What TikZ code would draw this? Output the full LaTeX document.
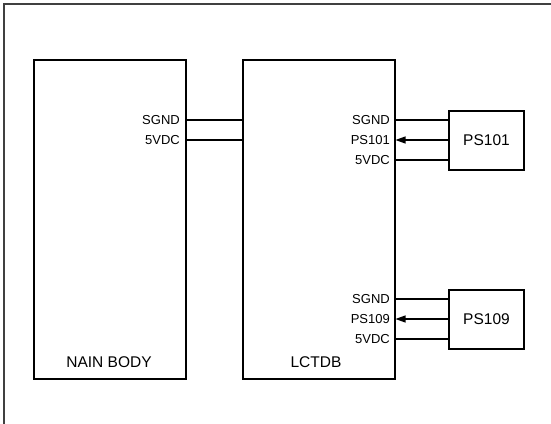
\documentclass[tikz,border=0pt]{standalone}
\usepackage{fontspec}
\setmainfont{Liberation Sans}
\usetikzlibrary{arrows.meta}
\begin{document}
\begin{tikzpicture}
      [x=1pt,y=-1pt,
       unit/.style={draw=black,line width=2pt,minimum width=152pt,minimum height=319pt,inner sep=0pt},
       sensor/.style={draw=black,line width=2pt,minimum width=75pt,minimum height=59pt,inner sep=0pt,font=\fontsize{15.5}{17}\selectfont},
       unitname/.style={inner sep=0pt,font=\fontsize{15.5}{17}\selectfont},
       pinname/.style={inner sep=0pt,anchor=east,font=\fontsize{13}{15}\selectfont},
       wire/.style={line width=1.1pt},
       signal/.style={wire,-{Triangle[length=10pt,width=7pt]}}]
      \useasboundingbox (0,0) rectangle (551,423);
      \draw[line width=1.5pt,draw=black!75] (4,427) |- (556,4);

      \node[unit] (main) at (110,219.5) {};
      \node[unit] (lctdb) at (318.5,219.5) {};
      \node[sensor] (ps101) at (486.5,140.5) {PS101};
      \node[sensor] (ps109) at (486.5,319.5) {PS109};

      \node[unitname] at (109,362) {NAIN BODY};
      \node[unitname] at (316,362) {LCTDB};

      % pins of the main body
      \node[pinname] (m1) at (180,120) {SGND};
      \node[pinname] (m2) at (180,140) {5VDC};
      % pins of the LCTDB
      \node[pinname] (a1) at (390,120) {SGND};
      \node[pinname] (a2) at (390,140) {PS101};
      \node[pinname] (a3) at (390,160) {5VDC};
      \node[pinname] (b1) at (390,299) {SGND};
      \node[pinname] (b2) at (390,319) {PS109};
      \node[pinname] (b3) at (390,339) {5VDC};

      \foreach \pin in {m1,m2}
      \draw[wire] (main.east |- \pin) -- (lctdb.west |- \pin);

      \foreach \pin/\sens in {a1/ps101,a3/ps101,b1/ps109,b3/ps109}
      \draw[wire] (\sens.west |- \pin) -- (lctdb.east |- \pin);

      \foreach \pin/\sens in {a2/ps101,b2/ps109}
      \draw[signal] (\sens.west |- \pin) -- (lctdb.east |- \pin);
\end{tikzpicture}
\end{document}
